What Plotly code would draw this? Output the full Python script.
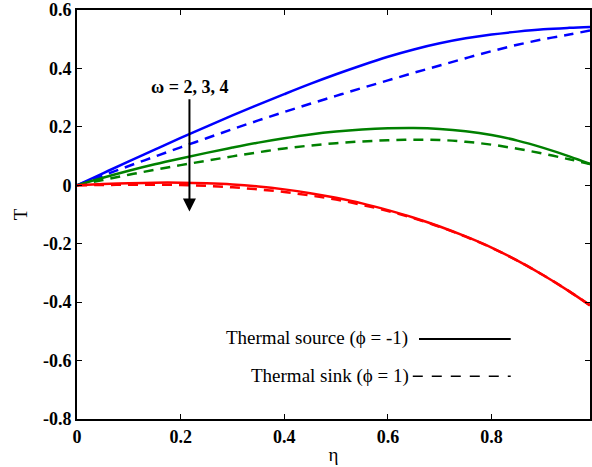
import plotly.graph_objects as go

# Temperature profiles T(eta) for omega = 2, 3, 4
eta = [0, 0.05, 0.1, 0.15, 0.2, 0.25, 0.3, 0.35, 0.4, 0.45, 0.5,
       0.55, 0.6, 0.65, 0.7, 0.75, 0.8, 0.85, 0.9, 0.95, 0.99]

# thermal source (phi = -1), solid
source_w2 = [0, 0.041, 0.082, 0.122, 0.162, 0.201, 0.239, 0.276, 0.312, 0.347, 0.380,
             0.411, 0.440, 0.465, 0.486, 0.503, 0.516, 0.526, 0.534, 0.539, 0.542]
source_w3 = [0, 0.026, 0.050, 0.072, 0.092, 0.111, 0.129, 0.146, 0.161, 0.174, 0.184,
             0.191, 0.195, 0.196, 0.193, 0.185, 0.172, 0.153, 0.128, 0.099, 0.073]
source_w4 = [0, 0.004, 0.007, 0.009, 0.009, 0.007, 0.003, -0.004, -0.014, -0.027, -0.043,
             -0.062, -0.085, -0.111, -0.141, -0.175, -0.213, -0.258, -0.308, -0.363, -0.411]

# thermal sink (phi = 1), dashed
sink_w2 = [0, 0.033, 0.066, 0.098, 0.130, 0.161, 0.192, 0.222, 0.251, 0.279, 0.306,
           0.333, 0.359, 0.385, 0.410, 0.435, 0.459, 0.481, 0.500, 0.516, 0.530]
sink_w3 = [0, 0.018, 0.036, 0.053, 0.069, 0.084, 0.099, 0.113, 0.126, 0.136, 0.144,
           0.150, 0.154, 0.156, 0.155, 0.149, 0.139, 0.125, 0.108, 0.089, 0.073]
sink_w4 = [0, 0.001, 0.002, 0.002, 0.001, -0.002, -0.007, -0.014, -0.023, -0.035, -0.049,
           -0.067, -0.088, -0.113, -0.142, -0.176, -0.214, -0.258, -0.308, -0.363, -0.411]

colors = ["#0000FF", "#008000", "#FF0000"]
source_series = [source_w2, source_w3, source_w4]
sink_series = [sink_w2, sink_w3, sink_w4]

x_ticks = [0, 0.2, 0.4, 0.6, 0.8]
x_tick_text = ["0", "0.2", "0.4", "0.6", "0.8"]
y_ticks = [-0.8, -0.6, -0.4, -0.2, 0, 0.2, 0.4, 0.6]
y_tick_text = ["-0.8", "-0.6", "-0.4", "-0.2", "0", "0.2", "0.4", "0.6"]

legend_labels = ["Thermal source (ϕ = -1)", "Thermal sink (ϕ = 1)"]
omega_label = "ω = 2, 3, 4"

SERIF = "Liberation Serif, Times New Roman, serif"
DASH = "10px,7px"

fig = go.Figure()

for ys, c in zip(sink_series, colors):
    fig.add_trace(go.Scatter(x=eta, y=ys, mode="lines", line=dict(color=c, width=2.5, dash=DASH),
                             line_shape="spline", showlegend=False, hoverinfo="skip"))
for ys, c in zip(source_series, colors):
    fig.add_trace(go.Scatter(x=eta, y=ys, mode="lines", line=dict(color=c, width=2.5),
                             line_shape="spline", showlegend=False, hoverinfo="skip"))

# omega label and downward arrow
fig.add_annotation(x=0.217, y=0.336, xref="x", yref="y", text=omega_label, showarrow=False,
                   font=dict(family=SERIF, size=18, color="black", weight="bold"))
fig.add_annotation(x=0.217, y=-0.09, ax=0.217, ay=0.30, xref="x", yref="y",
                   axref="x", ayref="y", text="", showarrow=True, arrowhead=2,
                   arrowsize=1.3, arrowwidth=2, arrowcolor="black")

# hand-drawn legend
fig.add_annotation(x=0.642, y=-0.524, xref="x", yref="y", text=legend_labels[0],
                   showarrow=False, xanchor="right",
                   font=dict(family=SERIF, size=19, color="black"))
fig.add_annotation(x=0.645, y=-0.654, xref="x", yref="y", text=legend_labels[1],
                   showarrow=False, xanchor="right",
                   font=dict(family=SERIF, size=19, color="black"))
fig.add_shape(type="line", x0=0.66, x1=0.837, y0=-0.526, y1=-0.526, xref="x", yref="y",
              line=dict(color="black", width=2))
fig.add_shape(type="line", x0=0.648, x1=0.837, y0=-0.654, y1=-0.654, xref="x", yref="y",
              line=dict(color="black", width=1.5, dash="10px,9px"))

axis_common = dict(showline=True, linecolor="black", linewidth=1.8, mirror="ticks",
                   ticks="inside", ticklen=5, tickwidth=1, tickcolor="black",
                   showgrid=False, zeroline=False,
                   tickfont=dict(family=SERIF, size=18, color="black", weight="bold"))

fig.update_xaxes(range=[0, 0.99], tickvals=x_ticks, ticktext=x_tick_text,
                 title=dict(text="η", font=dict(family=SERIF, size=19, color="black"), standoff=2),
                 **axis_common)
fig.update_yaxes(range=[-0.8, 0.6], tickvals=y_ticks, ticktext=y_tick_text,
                 title=dict(text="T", font=dict(family=SERIF, size=19, color="black"), standoff=10),
                 **axis_common)

fig.update_layout(width=592, height=467, margin=dict(l=77, r=0, t=10, b=48),
                  plot_bgcolor="white", paper_bgcolor="white")

fig.write_html("out.html")
